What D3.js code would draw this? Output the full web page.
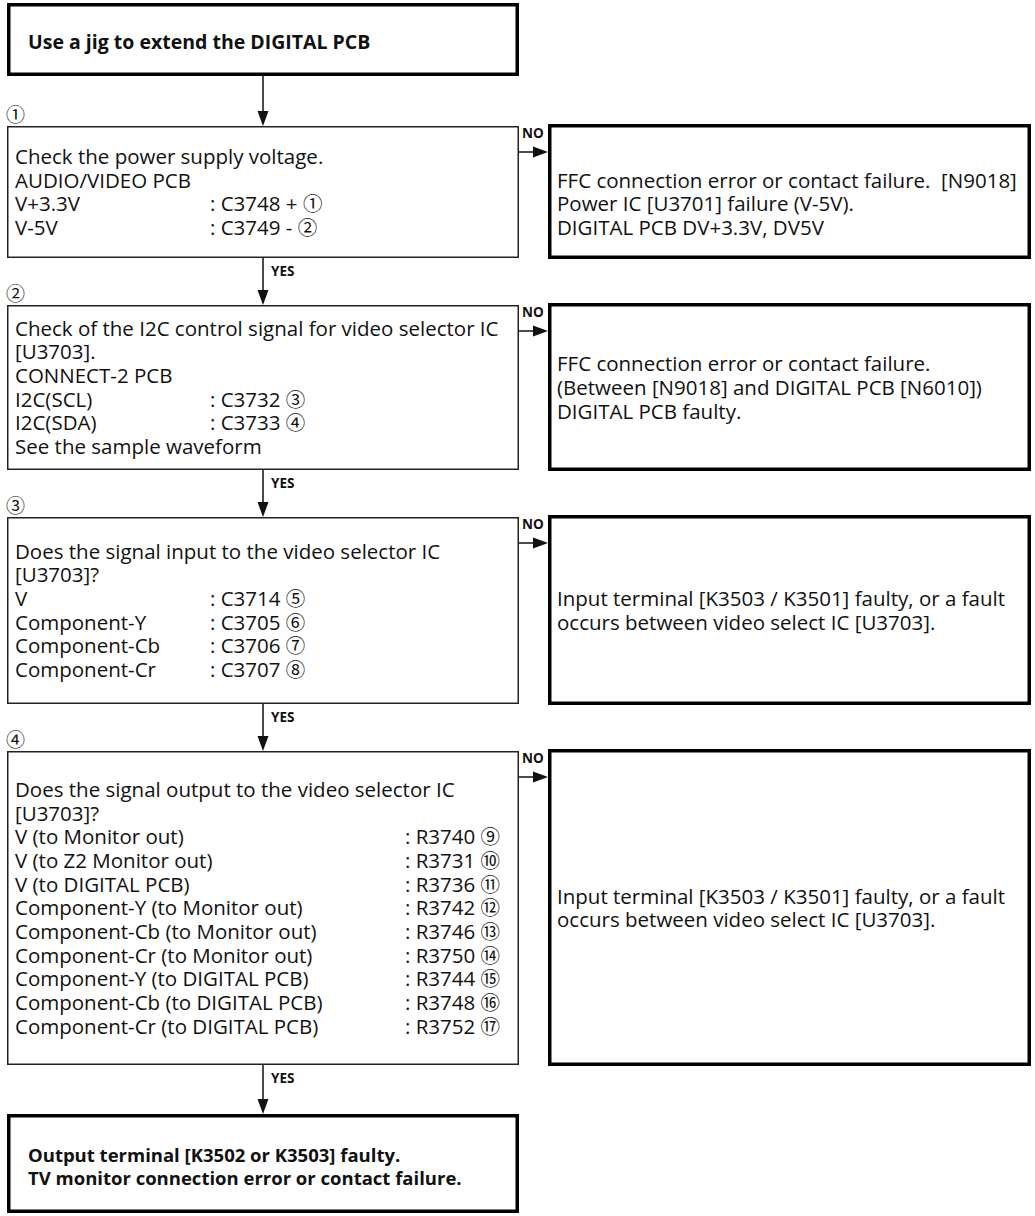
<!DOCTYPE html>
<html>
<head>
<meta charset="utf-8">
<script src="https://cdn.jsdelivr.net/npm/d3@7"></script>
<style>
  body { margin: 0; background: #fff; }
  text { font-family: "Open Sans", sans-serif; fill: #111; white-space: pre; }
  .mark { font-family: "Noto Sans CJK JP", sans-serif; }
</style>
</head>
<body>
<div id="chart"></div>
<script>
// ---- content ----
const startLines = ['Use a jig to extend the DIGITAL PCB']
const stepMarks = ['①', '②', '③', '④']

// a line is either plain text or [label, value, mark]
const step1Lines = [
  'Check the power supply voltage.',
  'AUDIO/VIDEO PCB',
  ['V+3.3V', ': C3748 +', '①'],
  ['V-5V', ': C3749 -', '②']
]
const step2Lines = [
  'Check of the I2C control signal for video selector IC',
  '[U3703].',
  'CONNECT-2 PCB',
  ['I2C(SCL)', ': C3732', '③'],
  ['I2C(SDA)', ': C3733', '④'],
  'See the sample waveform'
]
const step3Lines = [
  'Does the signal input to the video selector IC',
  '[U3703]?',
  ['V', ': C3714', '⑤'],
  ['Component-Y', ': C3705', '⑥'],
  ['Component-Cb', ': C3706', '⑦'],
  ['Component-Cr', ': C3707', '⑧']
]
const step4Lines = [
  'Does the signal output to the video selector IC',
  '[U3703]?',
  ['V (to Monitor out)', ': R3740', '⑨'],
  ['V (to Z2 Monitor out)', ': R3731', '⑩'],
  ['V (to DIGITAL PCB)', ': R3736', '⑪'],
  ['Component-Y (to Monitor out)', ': R3742', '⑫'],
  ['Component-Cb (to Monitor out)', ': R3746', '⑬'],
  ['Component-Cr (to Monitor out)', ': R3750', '⑭'],
  ['Component-Y (to DIGITAL PCB)', ': R3744', '⑮'],
  ['Component-Cb (to DIGITAL PCB)', ': R3748', '⑯'],
  ['Component-Cr (to DIGITAL PCB)', ': R3752', '⑰']
]
const failLines = [
  ['FFC connection error or contact failure.  [N9018]', 'Power IC [U3701] failure (V-5V).', 'DIGITAL PCB DV+3.3V, DV5V'],
  ['FFC connection error or contact failure.', '(Between [N9018] and DIGITAL PCB [N6010])', 'DIGITAL PCB faulty.'],
  ['Input terminal [K3503 / K3501] faulty, or a fault', 'occurs between video select IC [U3703].'],
  ['Input terminal [K3503 / K3501] faulty, or a fault', 'occurs between video select IC [U3703].']
]
const endLines = ['Output terminal [K3502 or K3503] faulty.', 'TV monitor connection error or contact failure.']
const yesLabel = 'YES'
const noLabel = 'NO'

// ---- layout ----
const WIDTH = 1035, HEIGHT = 1216
const LEFT = [7, 519], RIGHT = [548, 1031]
const START_BOX = [3, 76]
const STEP_H = [132, 165, 187, 314]
const STEP_GAP = 47, FIRST_GAP = 50, END_GAP = 49, END_H = 99
const COL_X = [210, 210, 210, 405]
const FAIL_SHIFT = [12, 0, 0, 0]     // right-hand text sits a little low in the first box
const FONT = 20.5, LINE_H = 23.7, CAP = 0.72 * FONT
const TEXT_X = 15, FAIL_X = 557
const HEAD = { len: 15, half: 5.5 }

const steps = [step1Lines, step2Lines, step3Lines, step4Lines]

let tops = [], y = START_BOX[1] + FIRST_GAP
STEP_H.forEach((h) => { tops.push(y); y += h + STEP_GAP })
const boxes = steps.map((lines, i) => ({
  lines, mark: stepMarks[i], fail: failLines[i],
  y0: tops[i], y1: tops[i] + STEP_H[i], col: COL_X[i], shift: FAIL_SHIFT[i]
}))
const endTop = boxes[3].y1 + END_GAP

const svg = d3.select('#chart').append('svg')
  .attr('width', WIDTH)
  .attr('height', HEIGHT)

const cx = (LEFT[0] + LEFT[1]) / 2

function arrowDown(x, ya, yb) {
  svg.append('line')
    .attr('x1', x).attr('x2', x).attr('y1', ya).attr('y2', yb - HEAD.len + 1)
    .attr('stroke', '#111').attr('stroke-width', 1.5)
  svg.append('path')
    .attr('d', d3.line()([[x - HEAD.half, yb - HEAD.len], [x + HEAD.half, yb - HEAD.len], [x, yb]]) + 'Z')
    .attr('fill', '#111')
}
function arrowRight(xa, xb, yy) {
  svg.append('line')
    .attr('x1', xa).attr('x2', xb - HEAD.len + 1).attr('y1', yy).attr('y2', yy)
    .attr('stroke', '#111').attr('stroke-width', 1.5)
  svg.append('path')
    .attr('d', d3.line()([[xb - HEAD.len, yy - HEAD.half], [xb - HEAD.len, yy + HEAD.half], [xb, yy]]) + 'Z')
    .attr('fill', '#111')
}
function box(x0, x1, y0, y1, thick) {
  const sw = thick ? 3.5 : 1.5
  svg.append('rect')
    .attr('x', x0 + sw / 2).attr('y', y0 + sw / 2)
    .attr('width', x1 - x0 - sw).attr('height', y1 - y0 - sw)
    .attr('fill', 'none').attr('stroke', thick ? '#000' : '#222').attr('stroke-width', sw)
}
function firstBaseline(y0, y1, n, lh, cap) {
  return (y0 + y1) / 2 - (n - 1) * lh / 2 + cap / 2
}

// start box
box(LEFT[0], LEFT[1], START_BOX[0], START_BOX[1], true)
svg.selectAll('.start-text').data(startLines).enter().append('text')
  .attr('class', 'start-text')
  .attr('x', 28)
  .attr('y', (d, i) => firstBaseline(START_BOX[0], START_BOX[1], startLines.length, 22, 14) + 2 + i * 22)
  .attr('font-size', 19.5).attr('font-weight', 700)
  .text(d => d)
arrowDown(cx, START_BOX[1], boxes[0].y0)

// step boxes
boxes.forEach((b, i) => {
  box(LEFT[0], LEFT[1], b.y0, b.y1, false)

  svg.append('text')
    .attr('class', 'mark')
    .attr('x', LEFT[0] - 1).attr('y', b.y0 - 4)
    .attr('font-size', 19)
    .text(b.mark)

  const y0 = firstBaseline(b.y0, b.y1, b.lines.length, LINE_H, CAP)
  const g = svg.append('g').attr('class', 'step-text')
  const rows = g.selectAll('g').data(b.lines).enter().append('g')
    .attr('transform', (d, j) => 'translate(0,' + (y0 + j * LINE_H) + ')')
  rows.append('text')
    .attr('x', TEXT_X)
    .attr('font-size', FONT)
    .text(d => Array.isArray(d) ? d[0] : d)
  const vals = rows.filter(d => Array.isArray(d)).append('text')
    .attr('x', b.col)
    .attr('font-size', FONT)
  vals.append('tspan').text(d => d[1] + ' ')
  vals.append('tspan').attr('class', 'mark').attr('font-size', FONT * 0.95).text(d => d[2])

  // NO branch
  svg.append('text')
    .attr('x', LEFT[1] + 3).attr('y', b.y0 + 12)
    .attr('font-size', 13.5).attr('font-weight', 700)
    .text(noLabel)
  arrowRight(LEFT[1], RIGHT[0], b.y0 + 26)
  box(RIGHT[0], RIGHT[1], b.y0 - 2, b.y1 + 1, true)
  const fy = firstBaseline(b.y0, b.y1, b.fail.length, LINE_H, CAP) + b.shift
  svg.selectAll(null).data(b.fail).enter().append('text')
    .attr('x', FAIL_X)
    .attr('y', (d, j) => fy + j * LINE_H)
    .attr('font-size', FONT)
    .text(d => d)

  // YES branch
  const next = i < boxes.length - 1 ? boxes[i + 1].y0 : endTop
  arrowDown(cx, b.y1, next)
  svg.append('text')
    .attr('x', cx + 8).attr('y', b.y1 + 18)
    .attr('font-size', 13.5).attr('font-weight', 700)
    .text(yesLabel)
})

// end box
box(LEFT[0], LEFT[1], endTop, endTop + END_H, true)
svg.selectAll('.end-text').data(endLines).enter().append('text')
  .attr('class', 'end-text')
  .attr('x', 28)
  .attr('y', (d, i) => firstBaseline(endTop, endTop + END_H, endLines.length, 23, 13) + 3 + i * 23)
  .attr('font-size', 18.5).attr('font-weight', 700)
  .text(d => d)
</script>
</body>
</html>
